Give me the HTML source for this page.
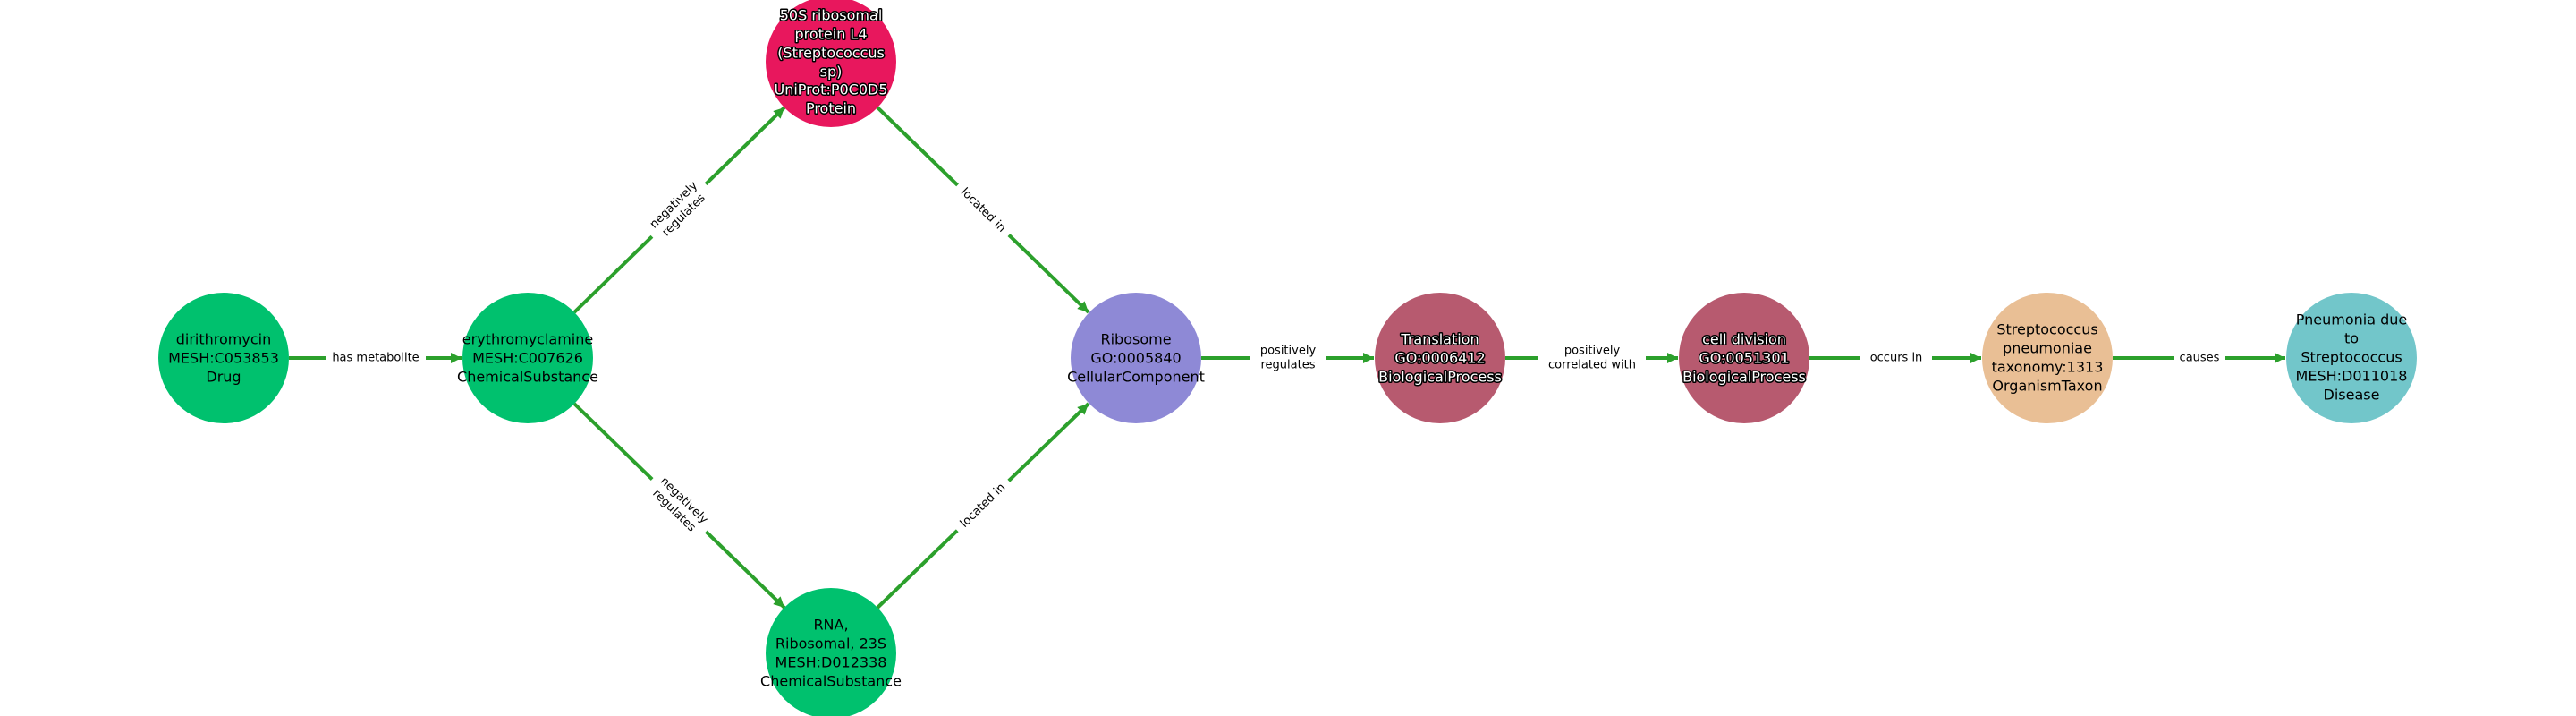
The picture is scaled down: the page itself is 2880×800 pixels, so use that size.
<!DOCTYPE html>
<html><head><meta charset="utf-8"><style>
html,body{margin:0;padding:0;background:#fff;}
svg{display:block;}
text{font-family:"DejaVu Sans","Liberation Sans",sans-serif;}
.n{font-size:16px;fill:#000;text-anchor:middle;dominant-baseline:central;}
.o{font-size:16px;fill:#fff;stroke:#000;stroke-width:3px;paint-order:stroke;stroke-linejoin:round;text-anchor:middle;dominant-baseline:central;}
.l{font-size:13px;fill:#000;text-anchor:middle;dominant-baseline:central;}
.e{stroke:#2ca02c;stroke-width:4;fill:none;}
</style></head><body>
<svg width="2880" height="800" viewBox="0 0 2880 800" xmlns="http://www.w3.org/2000/svg">
<defs>
<marker id="a" markerUnits="userSpaceOnUse" markerWidth="14" markerHeight="14" refX="12" refY="6" orient="auto">
<path d="M0,0 L12,6 L0,12 Z" fill="#2ca02c"/>
</marker>
</defs>
<line class="e" x1="323" y1="400" x2="516" y2="400" marker-end="url(#a)"/>
<line class="e" x1="642" y1="349" x2="877" y2="120" marker-end="url(#a)"/>
<line class="e" x1="642" y1="451" x2="877" y2="679" marker-end="url(#a)"/>
<line class="e" x1="981" y1="120" x2="1217" y2="349" marker-end="url(#a)"/>
<line class="e" x1="981" y1="679" x2="1217" y2="451" marker-end="url(#a)"/>
<line class="e" x1="1343" y1="400" x2="1536" y2="400" marker-end="url(#a)"/>
<line class="e" x1="1683" y1="400" x2="1876" y2="400" marker-end="url(#a)"/>
<line class="e" x1="2023" y1="400" x2="2215" y2="400" marker-end="url(#a)"/>
<line class="e" x1="2362" y1="400" x2="2555" y2="400" marker-end="url(#a)"/>
<rect x="364" y="390" width="112" height="20" fill="#fff"/>
<text class="l" x="420" y="400">has metabolite</text>
<g transform="translate(759,235) rotate(-44.3)">
<rect x="-42" y="-19" width="84" height="38" fill="#fff"/>
<text class="l" x="0" y="-8">negatively</text><text class="l" x="0" y="8">regulates</text></g>
<g transform="translate(759,565) rotate(44.3)">
<rect x="-42" y="-19" width="84" height="38" fill="#fff"/>
<text class="l" x="0" y="-8">negatively</text><text class="l" x="0" y="8">regulates</text></g>
<g transform="translate(1099,235) rotate(44.3)">
<rect x="-40" y="-10" width="80" height="20" fill="#fff"/>
<text class="l" x="0" y="0">located in</text></g>
<g transform="translate(1099,565) rotate(-44.3)">
<rect x="-40" y="-10" width="80" height="20" fill="#fff"/>
<text class="l" x="0" y="0">located in</text></g>
<rect x="1398" y="382" width="84" height="36" fill="#fff"/>
<text class="l" x="1440" y="392">positively</text><text class="l" x="1440" y="408">regulates</text>
<rect x="1720" y="382" width="120" height="36" fill="#fff"/>
<text class="l" x="1780" y="392">positively</text><text class="l" x="1780" y="408">correlated with</text>
<rect x="2080" y="390" width="80" height="20" fill="#fff"/>
<text class="l" x="2120" y="400">occurs in</text>
<rect x="2430" y="390" width="58" height="20" fill="#fff"/>
<text class="l" x="2459" y="400">causes</text>
<circle cx="250" cy="400" r="73" fill="#00c16e"/>
<text class="n" x="250" y="379">dirithromycin</text><text class="n" x="250" y="400">MESH:C053853</text><text class="n" x="250" y="421">Drug</text>
<circle cx="590" cy="400" r="73" fill="#00c16e"/>
<text class="n" x="590" y="379">erythromyclamine</text><text class="n" x="590" y="400">MESH:C007626</text><text class="n" x="590" y="421">ChemicalSubstance</text>
<circle cx="929" cy="69" r="73" fill="#e8175d"/>
<text class="o" x="929" y="17">50S ribosomal</text><text class="o" x="929" y="38">protein L4</text><text class="o" x="929" y="59">(Streptococcus</text><text class="o" x="929" y="80">sp)</text><text class="o" x="929" y="100">UniProt:P0C0D5</text><text class="o" x="929" y="121">Protein</text>
<circle cx="929" cy="730" r="73" fill="#00c16e"/>
<text class="n" x="929" y="698">RNA,</text><text class="n" x="929" y="719">Ribosomal, 23S</text><text class="n" x="929" y="740">MESH:D012338</text><text class="n" x="929" y="761">ChemicalSubstance</text>
<circle cx="1270" cy="400" r="73" fill="#8e89d6"/>
<text class="n" x="1270" y="379">Ribosome</text><text class="n" x="1270" y="400">GO:0005840</text><text class="n" x="1270" y="421">CellularComponent</text>
<circle cx="1610" cy="400" r="73" fill="#b75a6f"/>
<text class="o" x="1610" y="379">Translation</text><text class="o" x="1610" y="400">GO:0006412</text><text class="o" x="1610" y="421">BiologicalProcess</text>
<circle cx="1950" cy="400" r="73" fill="#b75a6f"/>
<text class="o" x="1950" y="379">cell division</text><text class="o" x="1950" y="400">GO:0051301</text><text class="o" x="1950" y="421">BiologicalProcess</text>
<circle cx="2289" cy="400" r="73" fill="#e9bf95"/>
<text class="n" x="2289" y="368">Streptococcus</text><text class="n" x="2289" y="389">pneumoniae</text><text class="n" x="2289" y="410">taxonomy:1313</text><text class="n" x="2289" y="431">OrganismTaxon</text>
<circle cx="2629" cy="400" r="73" fill="#72c6ca"/>
<text class="n" x="2629" y="357">Pneumonia due</text><text class="n" x="2629" y="378">to</text><text class="n" x="2629" y="399">Streptococcus</text><text class="n" x="2629" y="420">MESH:D011018</text><text class="n" x="2629" y="441">Disease</text>
</svg>
</body></html>
